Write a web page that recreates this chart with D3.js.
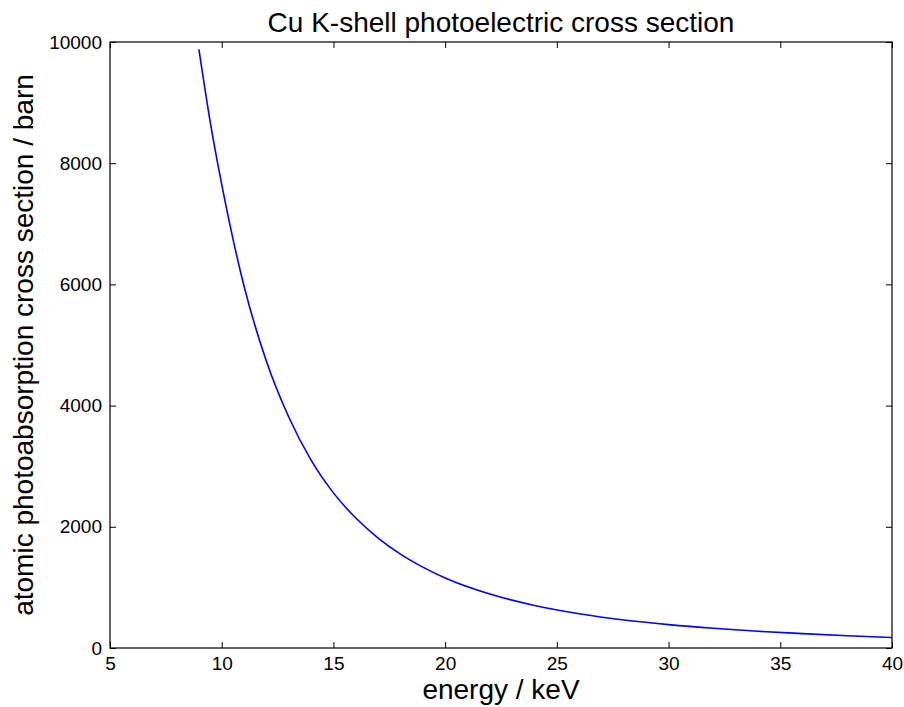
<!DOCTYPE html>
<html>
<head>
<meta charset="utf-8">
<script src="https://cdn.jsdelivr.net/npm/d3@7"></script>
<style>
  html, body { margin: 0; padding: 0; background: #fff; }
  svg { display: block; }
  text { font-family: "Liberation Sans", Arial, Helvetica, sans-serif; fill: #000; }
</style>
</head>
<body>
<svg id="chart" width="904" height="707"></svg>
<script>
// Photon energy in keV (starting at the Cu K edge)
const energy = [8.98, 9.5, 10, 11, 12, 13, 14, 15, 16, 17, 18, 19, 20, 22, 24, 26, 28, 30, 32, 34, 36, 38, 40];
// Atomic K-shell photoabsorption cross section in barn
const crossSection = [9880, 8650, 7650, 5970, 4732, 3812, 3100, 2560, 2145, 1815, 1550, 1335, 1155, 890, 702, 565, 462, 386, 325, 276, 237, 202, 172];

const xTicks = [5, 10, 15, 20, 25, 30, 35, 40];
const yTicks = [0, 2000, 4000, 6000, 8000, 10000];

const titleText = "Cu K-shell photoelectric cross section";
const xLabel = "energy / keV";
const yLabel = "atomic photoabsorption cross section / barn";

const svg = d3.select("#chart");
const plot = { left: 110, right: 892, top: 42, bottom: 648 };

const x = d3.scaleLinear().domain([5, 40]).range([plot.left, plot.right]);
const y = d3.scaleLinear().domain([0, 10000]).range([plot.bottom, plot.top]);

const tickLen = 6;

// curve
const line = d3.line()
  .x((d, i) => x(energy[i]))
  .y(d => y(d))
  .curve(d3.curveMonotoneX);

svg.append("path")
  .datum(crossSection)
  .attr("d", line)
  .attr("fill", "none")
  .attr("stroke", "#0000ff")
  .attr("stroke-width", 1.6);

// axes with inward ticks on all four sides
function styleAxis(g) {
  g.select(".domain").remove();
  g.selectAll(".tick line").attr("stroke", "#000").attr("stroke-width", 1);
  g.selectAll(".tick text").attr("font-size", 19).attr("font-family", "Liberation Sans, Arial, sans-serif").attr("fill", "#000");
}

svg.append("g")
  .attr("transform", `translate(0,${plot.bottom})`)
  .call(d3.axisBottom(x).tickValues(xTicks).tickFormat(d3.format("d")).tickSizeInner(-tickLen).tickSizeOuter(0).tickPadding(tickLen + 3))
  .call(styleAxis);

svg.append("g")
  .attr("transform", `translate(0,${plot.top})`)
  .call(d3.axisTop(x).tickValues(xTicks).tickFormat("").tickSizeInner(-tickLen).tickSizeOuter(0))
  .call(styleAxis);

svg.append("g")
  .attr("transform", `translate(${plot.left},0)`)
  .call(d3.axisLeft(y).tickValues(yTicks).tickFormat(d3.format("d")).tickSizeInner(-tickLen).tickSizeOuter(0).tickPadding(tickLen + 2))
  .call(styleAxis);

svg.append("g")
  .attr("transform", `translate(${plot.right},0)`)
  .call(d3.axisRight(y).tickValues(yTicks).tickFormat("").tickSizeInner(-tickLen).tickSizeOuter(0))
  .call(styleAxis);

// frame
svg.append("rect")
  .attr("x", plot.left).attr("y", plot.top)
  .attr("width", plot.right - plot.left).attr("height", plot.bottom - plot.top)
  .attr("fill", "none").attr("stroke", "#000").attr("stroke-width", 1.2);

// title and axis labels
svg.append("text")
  .attr("x", (plot.left + plot.right) / 2).attr("y", 32)
  .attr("text-anchor", "middle").attr("font-size", 28)
  .text(titleText);

svg.append("text")
  .attr("x", (plot.left + plot.right) / 2).attr("y", 699)
  .attr("text-anchor", "middle").attr("font-size", 28)
  .text(xLabel);

svg.append("text")
  .attr("transform", `translate(33,${(plot.top + plot.bottom) / 2}) rotate(-90)`)
  .attr("text-anchor", "middle").attr("font-size", 28)
  .text(yLabel);
</script>
</body>
</html>
